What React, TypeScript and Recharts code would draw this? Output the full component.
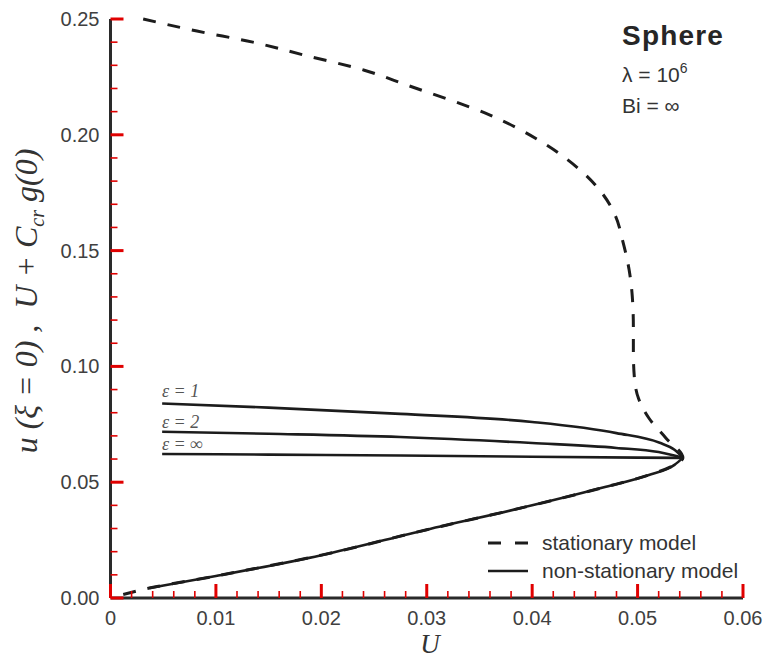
import { ComposedChart, Line, XAxis, YAxis } from 'recharts';

// axis ticks
const xMajorTicks = [0, 0.01, 0.02, 0.03, 0.04, 0.05, 0.06];
const xTickLabels = ['0', '0.01', '0.02', '0.03', '0.04', '0.05', '0.06'];
const yMajorTicks = [0, 0.05, 0.1, 0.15, 0.2, 0.25];
const yTickLabels = ['0.00', '0.05', '0.10', '0.15', '0.20', '0.25'];
const xMinorStep = 0.002;
const yMinorStep = 0.01;

// stationary model (dashed), upper branch then lower branch back to origin
const stationaryU = [0.0031, 0.0082, 0.0135, 0.0183, 0.024, 0.0281, 0.036, 0.0405, 0.0445, 0.0466, 0.0479, 0.0486, 0.0492, 0.0495, 0.0496, 0.0496, 0.0497, 0.0501, 0.0511, 0.0527, 0.0543, 0.0535, 0.051, 0.047, 0.04, 0.03, 0.02, 0.01, 0.0037, 0.0012];
const stationaryV = [0.25, 0.2448, 0.24, 0.2345, 0.228, 0.2215, 0.2085, 0.198, 0.185, 0.175, 0.165, 0.154, 0.1416, 0.13, 0.117, 0.106, 0.095, 0.086, 0.0775, 0.069, 0.0605, 0.0575, 0.053, 0.048, 0.04, 0.0295, 0.0185, 0.0095, 0.0043, 0.0015];

// non-stationary model (solid)
const eps1U = [0.0049, 0.015, 0.0275, 0.04, 0.048, 0.0521, 0.0535, 0.0543];
const eps1V = [0.084, 0.0822, 0.0795, 0.076, 0.0712, 0.067, 0.064, 0.0605];
const eps2U = [0.0049, 0.015, 0.0275, 0.04, 0.048, 0.052, 0.0543];
const eps2V = [0.0718, 0.0709, 0.0695, 0.0669, 0.0648, 0.063, 0.0605];
const epsInfU = [0.0049, 0.015, 0.0275, 0.04, 0.05, 0.0543];
const epsInfV = [0.0622, 0.0619, 0.0615, 0.061, 0.0606, 0.0605];
const lowerU = [0.0037, 0.01, 0.02, 0.03, 0.04, 0.047, 0.051, 0.0535, 0.0543];
const lowerV = [0.0043, 0.0095, 0.0185, 0.0295, 0.04, 0.048, 0.053, 0.0575, 0.0605];

const zip = (us: number[], vs: number[]) => us.map((x, i) => ({ x, y: vs[i] }));

const stationary = zip(stationaryU, stationaryV);
const eps1 = zip(eps1U, eps1V);
const eps2 = zip(eps2U, eps2V);
const epsInf = zip(epsInfU, epsInfV);
const lower = zip(lowerU, lowerV);

const makeTicks = (max: number, step: number) => {
    const out: number[] = [];
    const n = Math.round(max / step);
    for (let i = 0; i <= n; i++) out.push(Math.round(i * step * 10000) / 10000);
    return out;
};
const xTicks = makeTicks(0.06, xMinorStep);
const yTicks = makeTicks(0.25, yMinorStep);

const axisColor = '#2a2a2a';
const tickColor = '#e00000';
const lineColor = '#1c1c1c';
const labelFont = '"Liberation Sans", Arial, sans-serif';
const serifFont = '"Liberation Serif", "Times New Roman", serif';

const majorIndex = (list: number[], v: number) => list.findIndex(t => Math.abs(t - v) < 1e-9);

// inward tick mark plus label (majors only)
const XTick = (props: any) => {
    const { x, y, payload } = props;
    const idx = majorIndex(xMajorTicks, payload.value);
    const major = idx >= 0;
    return (
        <g>
            <line x1={x} y1={y} x2={x} y2={y - (major ? 14 : 7)} stroke={tickColor} strokeWidth={major ? 3 : 1.6} />
            {major && (
                <text x={x} y={y + 27} textAnchor="middle" fontFamily={labelFont} fontSize={20} fill="#404040">
                    {xTickLabels[idx]}
                </text>
            )}
        </g>
    );
};

const YTick = (props: any) => {
    const { x, y, payload } = props;
    const idx = majorIndex(yMajorTicks, payload.value);
    const major = idx >= 0;
    return (
        <g>
            <line x1={x} y1={y} x2={x + (major ? 13 : 7)} y2={y} stroke={tickColor} strokeWidth={major ? 3 : 1.6} />
            {major && (
                <text x={x - 11} y={y + 7} textAnchor="end" fontFamily={labelFont} fontSize={20} fill="#404040">
                    {yTickLabels[idx]}
                </text>
            )}
        </g>
    );
};

const abs = (left: number, top: number, width: number, height: number) => ({
    position: 'absolute' as const, left, top, width, height, pointerEvents: 'none' as const,
});

const App = () => {
    return (
        <div style={{ position: 'absolute', left: 0, top: 0, width: 768, height: 660, background: '#fff' }}>
            <ComposedChart width={768} height={660} margin={{ top: 19, right: 25, bottom: 32, left: 50.5 }}>
                <XAxis
                    type="number"
                    dataKey="x"
                    domain={[0, 0.06]}
                    ticks={xTicks}
                    interval={0}
                    height={30}
                    tickSize={0}
                    tickMargin={0}
                    tickLine={false}
                    axisLine={{ stroke: axisColor, strokeWidth: 3 }}
                    tick={<XTick />}
                />
                <YAxis
                    type="number"
                    dataKey="y"
                    domain={[0, 0.25]}
                    ticks={yTicks}
                    interval={0}
                    width={60}
                    tickSize={0}
                    tickMargin={0}
                    tickLine={false}
                    axisLine={{ stroke: axisColor, strokeWidth: 3 }}
                    tick={<YTick />}
                />
                <Line data={stationary} dataKey="y" type="monotoneY" stroke={lineColor} strokeWidth={3} strokeDasharray="13 12" dot={false} activeDot={false} isAnimationActive={false} />
                <Line data={lower} dataKey="y" type="monotoneX" stroke={lineColor} strokeWidth={2.6} dot={false} activeDot={false} isAnimationActive={false} />
                <Line data={eps1} dataKey="y" type="monotoneX" stroke={lineColor} strokeWidth={2.6} dot={false} activeDot={false} isAnimationActive={false} />
                <Line data={eps2} dataKey="y" type="monotoneX" stroke={lineColor} strokeWidth={2.6} dot={false} activeDot={false} isAnimationActive={false} />
                <Line data={epsInf} dataKey="y" type="monotoneX" stroke={lineColor} strokeWidth={2.6} dot={false} activeDot={false} isAnimationActive={false} />
            </ComposedChart>

            {/* y axis title */}
            <svg width={56} height={360} style={abs(0, 121, 56, 360)}>
                <text transform="translate(37, 180) rotate(-90)" textAnchor="middle" fontFamily={serifFont} fontStyle="italic" fontSize={32} fill="#333">
                    u (ξ = 0) ,{'\u00a0\u00a0'}U + C<tspan fontSize={20} dy={7}>cr</tspan>
                    <tspan dy={-7}> g(0)</tspan>
                </text>
            </svg>

            {/* x axis title */}
            <svg width={60} height={32} style={abs(400, 628, 60, 32)}>
                <text x={30} y={25} textAnchor="middle" fontFamily={serifFont} fontStyle="italic" fontSize={27} fill="#333">U</text>
            </svg>

            {/* case description */}
            <svg width={140} height={110} style={abs(615, 10, 140, 110)}>
                <text x={7} y={35} fontFamily={labelFont} fontWeight="bold" fontSize={28} letterSpacing={1.2} fill="#262626">Sphere</text>
                <text x={7} y={72} fontFamily={labelFont} fontSize={21} fill="#333">
                    λ = 10<tspan fontSize={14} dy={-9}>6</tspan>
                </text>
                <text x={7} y={103} fontFamily={labelFont} fontSize={21} fill="#333">Bi = ∞</text>
            </svg>

            {/* curve labels */}
            <svg width={70} height={82} style={abs(155, 380, 70, 82)}>
                <text x={7} y={17} fontFamily={serifFont} fontStyle="italic" fontSize={18} fill="#555">ε = 1</text>
                <text x={7} y={48} fontFamily={serifFont} fontStyle="italic" fontSize={18} fill="#555">ε = 2</text>
                <text x={7} y={70} fontFamily={serifFont} fontStyle="italic" fontSize={18} fill="#555">ε = ∞</text>
            </svg>

            {/* legend */}
            <svg width={265} height={56} style={abs(480, 528, 265, 56)}>
                <line x1={8} y1={15} x2={48} y2={15} stroke={lineColor} strokeWidth={3} strokeDasharray="13 14" />
                <text x={62} y={22} fontFamily={labelFont} fontSize={21} fill="#333">stationary model</text>
                <line x1={8} y1={43} x2={48} y2={43} stroke={lineColor} strokeWidth={2.6} />
                <text x={62} y={50} fontFamily={labelFont} fontSize={21} fill="#333">non-stationary model</text>
            </svg>
        </div>
    );
};

export default App;
